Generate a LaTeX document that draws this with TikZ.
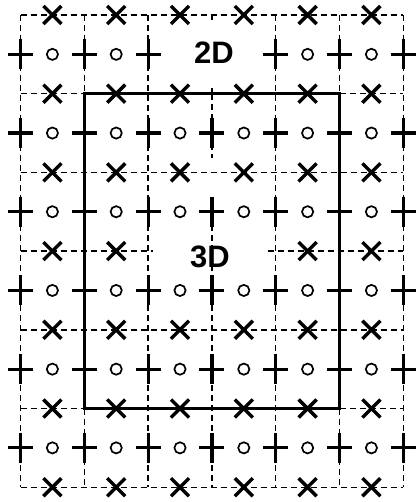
\documentclass[tikz,border=0pt]{standalone}
\usepackage{fontspec}
\setmainfont{Liberation Sans}
\begin{document}
\begin{tikzpicture}[x=1pt,y=-1pt,
  gridline/.style={line width=1.4pt, dash pattern=on 6pt off 4pt},
  frame/.style={line width=2.6pt},
  xmark/.style={line width=3.4pt},
  pmark/.style={line width=3.2pt},
  omark/.style={line width=1.7pt},
  lbl/.style={inner sep=0pt, font=\bfseries\fontsize{31}{32}\selectfont}]
\useasboundingbox (0,0) rectangle (416,502);
\fill[white] (0,0) rectangle (416,502);
% lattice corners: plus columns i, X rows j
\foreach \i in {0,...,6}{\foreach \j in {0,...,6}{
  \coordinate (g\i\j) at ({20.5+63.8*\i},{15+78.7*\j});
}}
% dashed horizontal lines
\foreach \j in {0,2,4,6}{\draw[gridline] (g0\j) -- (g6\j);}
\foreach \j in {1,5}{\draw[gridline] (g0\j) -- (g1\j); \draw[gridline] (g5\j) -- (g6\j);}
\draw[gridline] (g03) -- ([xshift=5pt]g23);
\draw[gridline] ([xshift=-8pt]g43) -- (g63);
% dashed vertical lines
\foreach \i in {0,2,4,6}{\draw[gridline] (g\i0) -- (g\i6);}
\foreach \i in {1,5}{\draw[gridline] (g\i0) -- (g\i1); \draw[gridline] (g\i5) -- (g\i6);}
\draw[gridline] (g31) -- ([yshift=-64pt]g31);
\draw[gridline] ([yshift=26pt]g33) -- (g36);
\draw[gridline] (g30) -- ([yshift=-5pt]g30);
\draw[gridline] (g31) -- ([yshift=8pt]g31);
% solid frame of the 3D region
\draw[frame] (g11) rectangle (g55);
% X marks
\foreach \i in {0,...,5}{\foreach \j in {0,...,6}{
  \pgfmathtruncatemacro\skipit{(\j==3)&&((\i==2)||(\i==3))}
  \ifnum\skipit=0
    \pgfmathsetmacro\px{52.4+63.8*\i}
    \pgfmathsetmacro\py{15+78.7*\j}
    \draw[xmark] (\px-9,\py-9) -- (\px+9,\py+9) (\px-9,\py+9) -- (\px+9,\py-9);
  \fi
}}
% plus marks
\foreach \i in {0,...,6}{\foreach \j in {0,...,5}{
  \pgfmathtruncatemacro\skipit{(\j==0)&&(\i==3)}
  \ifnum\skipit=0
    \pgfmathsetmacro\px{20.5+63.8*\i}
    \pgfmathsetmacro\py{54.35+78.7*\j}
    \draw[pmark] (\px-12.5,\py) -- (\px+12.5,\py) (\px,\py-15) -- (\px,\py+15);
  \fi
}}
% circles
\foreach \i in {0,...,5}{\foreach \j in {0,...,5}{
  \pgfmathtruncatemacro\skipit{(\j==0)&&((\i==2)||(\i==3))}
  \ifnum\skipit=0
    \pgfmathsetmacro\px{52.4+63.8*\i}
    \pgfmathsetmacro\py{54.35+78.7*\j}
    \draw[omark] (\px,\py) circle[radius=5.6];
  \fi
}}
\node[lbl] (twoD) at (214,53) {2D};
\node[lbl] (threeD) at (210,257) {3D};
\end{tikzpicture}
\end{document}
